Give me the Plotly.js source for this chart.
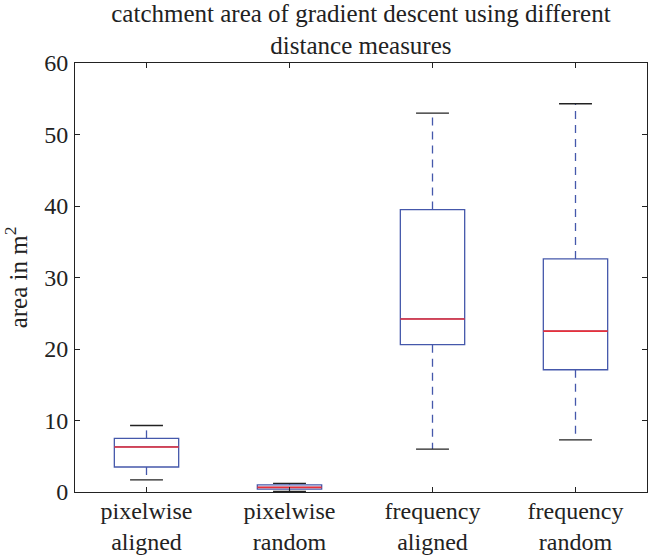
<!DOCTYPE html>
<html>
<head>
<meta charset="utf-8">
<script src="https://cdn.plot.ly/plotly-3.0.1.min.js"></script>
<style>
  html, body { margin:0; padding:0; background:#ffffff; }
  #myDiv { width:648px; height:557px; }
</style>
</head>
<body>
<div id="myDiv"></div>
<script>
// boxplot stats (area in m^2)
let categories=['pixelwise<br>aligned','pixelwise<br>random','frequency<br>aligned','frequency<br>random'];
let positions=[1,2,3,4];
let lower_whisker=[1.7, 0.1, 6.0, 7.3];
let q1_values=[3.5, 0.4, 20.6, 17.1];
let median_values=[6.3, 0.65, 24.2, 22.5];
let q3_values=[7.5, 1.0, 39.5, 32.6];
let upper_whisker=[9.3, 1.2, 53.0, 54.3];
let y_ticks=[0,10,20,30,40,50,60];

let box_width=0.45;
let cap_width=0.23;
let box_color='#4558ab';
let median_color='#e8303a';
let cap_color='#222222';
let font_family='Liberation Serif, Times New Roman, serif';

// segments: [x0,x1,null] style arrays for scatter
function segs(fn) {
  let xs=[], ys=[];
  for(let i=0;i<positions.length;i++) {
    let s=fn(i);
    xs.push(s[0],s[1],null);
    ys.push(s[2],s[3],null);
  }
  return {x:xs, y:ys};
}

let boxTrace = {
  type:'box',
  x: positions,
  q1: q1_values,
  median: median_values,
  q3: q3_values,
  lowerfence: q1_values,
  upperfence: q3_values,
  width: box_width,
  whiskerwidth: 0,
  fillcolor: 'rgba(0,0,0,0)',
  line: { color: box_color, width: 1.3 },
  hoverinfo: 'skip',
  showlegend: false
};

let wUp=segs(i => [positions[i],positions[i],q3_values[i],upper_whisker[i]]);
let wLo=segs(i => [positions[i],positions[i],q1_values[i],lower_whisker[i]]);
let whiskerTrace = {
  type:'scatter', mode:'lines',
  x: wUp.x.concat(wLo.x),
  y: wUp.y.concat(wLo.y),
  line: { color: box_color, width: 1.3, dash: '8px,6px' },
  hoverinfo:'skip', showlegend:false
};

let cUp=segs(i => [positions[i]-cap_width/2,positions[i]+cap_width/2,upper_whisker[i],upper_whisker[i]]);
let cLo=segs(i => [positions[i]-cap_width/2,positions[i]+cap_width/2,lower_whisker[i],lower_whisker[i]]);
let capTrace = {
  type:'scatter', mode:'lines',
  x: cUp.x.concat(cLo.x),
  y: cUp.y.concat(cLo.y),
  line: { color: cap_color, width: 1.3 },
  hoverinfo:'skip', showlegend:false
};

let med=segs(i => [positions[i]-box_width/2,positions[i]+box_width/2,median_values[i],median_values[i]]);
let medianTrace = {
  type:'scatter', mode:'lines',
  x: med.x, y: med.y,
  line: { color: median_color, width: 1.6 },
  hoverinfo:'skip', showlegend:false
};

let data=[whiskerTrace, boxTrace, capTrace, medianTrace];

let layout = {
  width: 648,
  height: 557,
  paper_bgcolor: '#ffffff',
  plot_bgcolor: '#ffffff',
  font: { family: font_family, color: '#222222', size: 24 },
  title: {
    text: 'catchment area of gradient descent using different<br>distance measures',
    font: { family: font_family, size: 25, color:'#222222' },
    x: 0.557, xref: 'container', xanchor: 'center',
    y: 0.961, yref: 'container', yanchor: 'top'
  },
  margin: { l:75, r:1, t:63, b:65 },
  showlegend: false,
  xaxis: {
    range: [0.5, 4.5],
    tickmode: 'array',
    tickvals: positions,
    ticktext: categories,
    ticks: 'inside',
    ticklen: 5,
    tickcolor: '#222222',
    showgrid: false,
    zeroline: false,
    showline: true,
    mirror: 'ticks',
    linecolor: '#222222',
    linewidth: 1,
    ticklabelstandoff: -3,
    tickfont: { family: font_family, size: 24, color:'#222222' }
  },
  yaxis: {
    range: [0, 60],
    tickmode: 'array',
    tickvals: y_ticks,
    ticktext: y_ticks.map(String),
    ticks: 'inside',
    ticklen: 5,
    tickcolor: '#222222',
    showgrid: false,
    zeroline: false,
    showline: true,
    mirror: 'ticks',
    linecolor: '#222222',
    linewidth: 1,
    ticklabelstandoff: 1,
    tickfont: { family: font_family, size: 24, color:'#222222' },
    title: { text: 'area in m<sup>2</sup>', font: { family: font_family, size: 25, color:'#222222' }, standoff: 13 }
  }
};

let config = { displayModeBar:false, staticPlot:true };

Plotly.newPlot('myDiv', data, layout, config);
</script>
</body>
</html>
